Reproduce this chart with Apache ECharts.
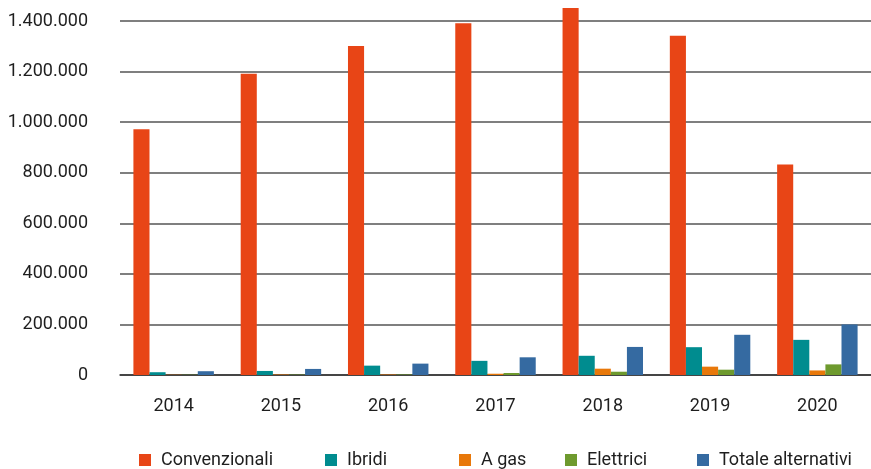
<!DOCTYPE html>
<html>
<head>
<meta charset="utf-8">
<script src="https://cdn.jsdelivr.net/npm/echarts@6/dist/echarts.min.js"></script>
<style>
  html, body { margin: 0; padding: 0; background: #fff; }
  #chart { width: 871px; height: 469px; }
</style>
</head>
<body>
<div id="chart"></div>
<script>
// Immatricolazioni per alimentazione, 2014-2020
const years = ['2014', '2015', '2016', '2017', '2018', '2019', '2020'];
const convenzionali = [972000, 1191000, 1301000, 1391000, 1451000, 1342000, 832000];
const ibridi = [11000, 16000, 37000, 56000, 76000, 110000, 139000];
const aGas = [1000, 2000, 2000, 5000, 25000, 33000, 18000];
const elettrici = [1000, 1500, 2000, 8000, 13000, 21000, 42000];
const totaleAlternativi = [15000, 24000, 45000, 70000, 111000, 159000, 200000];

const seriesNames = ['Convenzionali', 'Ibridi', 'A gas', 'Elettrici', 'Totale alternativi'];
const seriesValues = [convenzionali, ibridi, aGas, elettrici, totaleAlternativi];
const seriesColors = ['#E84516', '#008C8F', '#E8780A', '#6E9A2E', '#356AA1'];
const legendLeft = [139, 325, 459, 565, 697];

const FONT = 'Roboto, "Liberation Sans", Arial, sans-serif';
const TEXT = '#1e1e1e';

function fmt(v) {
  return String(v).replace(/\B(?=(\d{3})+(?!\d))/g, '.');
}

const chart = echarts.init(document.getElementById('chart'));
chart.setOption({
  animation: false,
  backgroundColor: '#ffffff',
  grid: { left: 120, right: 0, top: 21, bottom: 94, containLabel: false },
  legend: seriesNames.map((name, i) => ({
    data: [name],
    left: legendLeft[i],
    top: 451,
    padding: 0,
    itemWidth: 12,
    itemHeight: 12,
    icon: 'rect',
    selectedMode: false,
    textStyle: { fontFamily: FONT, fontSize: 18, color: TEXT, padding: [0, 0, 0, 5] }
  })),
  xAxis: {
    type: 'category',
    data: years,
    axisLine: { lineStyle: { color: '#333', width: 1.5 } },
    axisTick: { show: false },
    axisLabel: { fontFamily: FONT, fontSize: 18, color: TEXT, margin: 22 }
  },
  yAxis: {
    type: 'value',
    min: 0,
    max: 1400000,
    interval: 200000,
    axisLine: { show: false },
    axisTick: { show: false },
    splitLine: { lineStyle: { color: '#555', width: 1.5 } },
    axisLabel: {
      fontFamily: FONT, fontSize: 18, color: TEXT, margin: 32,
      formatter: fmt
    }
  },
  series: seriesNames.map((name, i) => ({
    name: name,
    type: 'bar',
    data: seriesValues[i],
    clip: false,
    barGap: '0%',
    barCategoryGap: '25%',
    itemStyle: { color: seriesColors[i] }
  }))
});
</script>
</body>
</html>
